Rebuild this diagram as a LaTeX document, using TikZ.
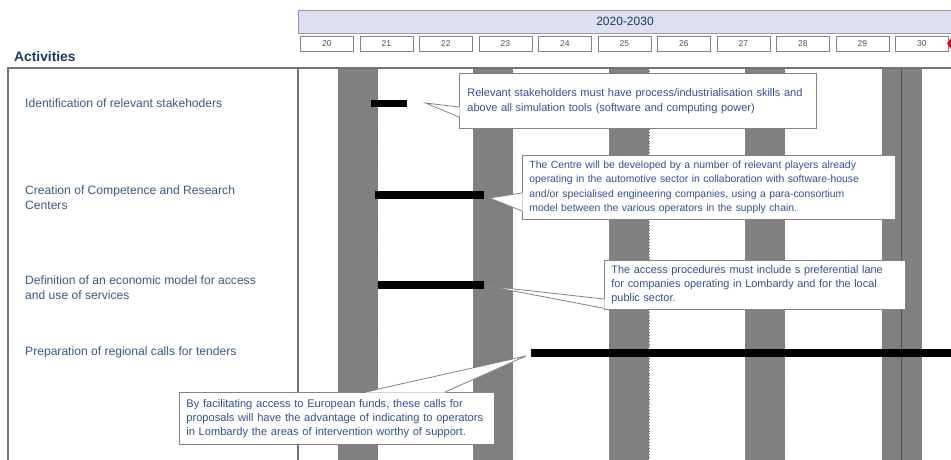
\documentclass[tikz,border=0pt]{standalone}
\usepackage{fontspec}
\setmainfont{Liberation Sans}
\usetikzlibrary{calc}
\definecolor{bandgray}{RGB}{128,128,128}
\definecolor{framegray}{RGB}{115,115,115}
\definecolor{labelblue}{RGB}{58,88,130}
\definecolor{callblue}{RGB}{50,80,140}
\definecolor{actblue}{RGB}{31,56,100}
\definecolor{headfill}{RGB}{222,224,242}
\definecolor{headline}{RGB}{150,152,175}
\definecolor{yeartext}{RGB}{80,80,80}
\definecolor{diamondred}{RGB}{200,20,40}
\definecolor{callborder}{RGB}{130,130,130}
\begin{document}
\begin{tikzpicture}[x=1pt,y=-1pt,
  headbox/.style={draw=headline,fill=headfill,line width=0.8pt,inner sep=0pt,minimum height=23pt,anchor=north west},
  yearbox/.style={draw=callborder,fill=white,line width=0.7pt,inner sep=0pt,minimum width=53pt,minimum height=15pt,anchor=north west,font=\fontsize{8.5}{9}\selectfont,text=yeartext},
  gbar/.style={fill=black,inner sep=0pt,anchor=west},
  callout/.style={draw=callborder,fill=white,line width=0.8pt,anchor=north west,align=left,inner ysep=0pt,text=callblue},
  wedge/.style={draw=callborder,line width=0.8pt,line join=miter},
  actlabel/.style={anchor=west,align=left,inner sep=0pt,text=labelblue,font=\fontsize{12.1}{15}\selectfont},
  frameline/.style={draw=framegray,line width=1.1pt},
  bandedge/.style={draw=black!55,line width=0.9pt,dotted}
]
\useasboundingbox (0,0) rectangle (951,460);
\fill[white] (0,0) rectangle (951,460);

% gray bands
\foreach \x in {338,473,609,745,882} \fill[bandgray] (\x,68) rectangle ++(40,392);
\foreach \x in {378,513,650,785} \draw[bandedge] (\x-0.6,68) -- (\x-0.6,460);
\draw[black!70,line width=1pt] (901,68) -- (901,460);

% frame
\draw[frameline] (8,460) -- (8,68) -- (951,68);
\draw[frameline] (298,68) -- (298,460);

% header
\node[headbox,minimum width=662pt] (period) at (298,10) {};
\node[text=actblue,font=\fontsize{12}{13}\selectfont,inner sep=0pt] (periodlabel) at (625,21) {2020-2030};
\foreach \i/\yr in {0/20,1/21,2/22,3/23,4/24,5/25,6/26,7/27,8/28,9/29,10/30}
  \node[yearbox] (y\yr) at ({300+59.5*\i},36) {\yr};
\fill[diamondred] (951,38) -- (955,43.5) -- (951,49) -- (947,43.5) -- cycle;

% title and activity labels
\node[anchor=west,inner sep=0pt,text=actblue,font=\fontsize{13.8}{15}\selectfont\bfseries] (act) at (14,57) {Activities};
\node[actlabel] (a1) at (25,103) {Identification of relevant stakehoders};
\node[actlabel] (a2) at (25,197.5) {Creation of Competence and Research\\Centers};
\node[actlabel] (a3) at (25,287.5) {Definition of an economic model for access\\and use of services};
\node[actlabel] (a4) at (25,352) {Preparation of regional calls for tenders};

% gantt bars
\node[gbar,minimum width=36pt,minimum height=7.5pt] (bar1) at (371,103.5) {};
\node[gbar,minimum width=109pt,minimum height=8pt] (bar2) at (375,195) {};
\node[gbar,minimum width=106pt,minimum height=8pt] (bar3) at (378,285) {};
\node[gbar,minimum width=425pt,minimum height=8pt] (bar4) at (531,353) {};

% callouts
\node[callout,minimum width=357pt,minimum height=55pt,text width=341pt,inner xsep=8pt,font=\fontsize{11}{15}\selectfont] (c1) at (459,73)
  {Relevant stakeholders must have process/industrialisation skills and\\above all simulation tools (software and computing power)};
\node[callout,minimum width=373pt,minimum height=64pt,text width=359pt,inner xsep=7pt,font=\fontsize{10.4}{14.3}\selectfont] (c2) at (522,155)
  {The Centre will be developed by a number of relevant players already\\operating in the automotive sector in collaboration with software-house\\and/or specialised engineering companies, using a para-consortium\\model between the various operators in the supply chain.};
\node[callout,minimum width=301pt,minimum height=49pt,text width=287pt,inner xsep=7pt,font=\fontsize{10.9}{14}\selectfont] (c3) at (604,260)
  {The access procedures must include s preferential lane\\for companies operating in Lombardy and for the local\\public sector.};
\node[callout,minimum width=315pt,minimum height=52pt,text width=301pt,inner xsep=7pt,font=\fontsize{11.1}{13.8}\selectfont] (c4) at (179,392)
  {By facilitating access to European funds, these calls for\\proposals will have the advantage of indicating to operators\\in Lombardy the areas of intervention worthy of support.};

% wedges
\coordinate (t1) at ($(bar1.east)+(18,-0.5)$);
\fill[white] ($(c1.north west)+(0.7,34)$) -- (t1) -- ($(c1.north west)+(0.7,44)$) -- cycle;
\draw[wedge] ($(c1.north west)+(0,34)$) -- (t1) -- ($(c1.north west)+(0,44)$);

\coordinate (t2) at ($(bar2.east)+(5,3)$);
\fill[white] ($(c2.north west)+(0.7,38)$) -- (t2) -- ($(c2.north west)+(0.7,56)$) -- cycle;
\draw[wedge] ($(c2.north west)+(0,38)$) -- (t2) -- ($(c2.north west)+(0,56)$);

\coordinate (t3) at ($(bar3.east)+(3,1)$);
\fill[white] ($(c3.north west)+(0.7,39)$) -- (t3) -- ($(c3.north west)+(0.7,48.3)$) -- cycle;
\draw[wedge] ($(c3.north west)+(0,39)$) -- (t3) -- ($(c3.north west)+(0,48.3)$);

\coordinate (t4) at ($(bar4.west)+(-5,3)$);
\fill[white] ($(c4.north west)+(186,0.7)$) -- (t4) -- ($(c4.north west)+(266,0.7)$) -- cycle;
\draw[wedge] ($(c4.north west)+(186,0)$) -- (t4) -- ($(c4.north west)+(266,0)$);
\end{tikzpicture}
\end{document}
